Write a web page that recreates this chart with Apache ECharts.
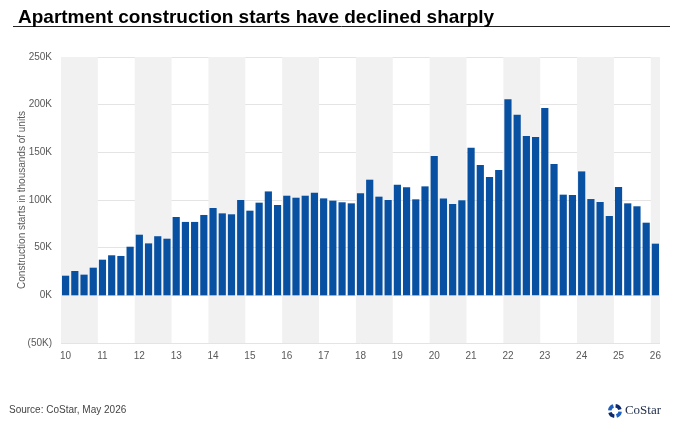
<!DOCTYPE html>
<html>
<head>
<meta charset="utf-8">
<script src="https://cdn.jsdelivr.net/npm/echarts@6/dist/echarts.min.js"></script>
<style>
	html, body { margin: 0; padding: 0; background: #fff; }
	#chart { width: 680px; height: 425px; }
</style>
</head>
<body>
<div id="chart"></div>
<script>
// quarters 2010 Q1 .. 2026 Q1
var years = ['10','11','12','13','14','15','16','17','18','19','20','21','22','23','24','25','26'];

// construction starts, thousands of units
var starts = [
	20.6, 25.5, 21.7, 29.0,
	37.4, 42.0, 41.3, 51.0,
	63.6, 54.5, 62.0, 59.4,
	82.2, 77.0, 77.0, 84.3,
	91.6, 86.0, 85.0, 100.0,
	88.8, 97.2, 109.0, 94.8,
	104.5, 102.4, 104.5, 107.7,
	101.7, 99.3, 97.6, 96.5,
	107.0, 121.3, 103.5, 100.0,
	116.0, 113.3, 100.7, 114.3,
	146.2, 101.7, 95.8, 99.7,
	154.9, 136.7, 124.1, 131.5,
	205.6, 189.5, 167.1, 166.1,
	196.5, 137.8, 105.6, 105.2,
	130.0, 101.0, 97.9, 83.2,
	113.6, 96.5, 93.4, 76.2,
	54.2
];

var quarters = [];
for (var i = 0; i < starts.length; i++) {
	quarters.push(years[Math.floor(i / 4)] + 'Q' + (i % 4 + 1));
}

var chart = echarts.init(document.getElementById('chart'), null, { renderer: 'canvas' });

var colors = {
	bar: '#0850a1',
	band: '#f1f1f1',
	grid: '#e4e4e4',
	labels: '#595959'
};

chart.setOption({
	animation: false,
	grid: {
		left: 61,
		right: 20,
		top: 57,
		bottom: 82
	},
	title: {
		text: 'Apartment construction starts have declined sharply',
		left: 13,
		top: 3,
		textStyle: {
			fontFamily: 'Liberation Sans',
			fontWeight: 'bold',
			fontSize: 19,
			color: '#000'
		}
	},
	xAxis: {
		type: 'category',
		data: quarters,
		boundaryGap: true,
		axisLine: { show: false },
		axisTick: { show: false },
		axisLabel: {
			interval: 3,
			margin: 8,
			color: colors.labels,
			fontFamily: 'Liberation Sans',
			fontSize: 10,
			formatter: function (v) { return v.slice(0, 2); }
		},
		splitArea: {
			show: true,
			interval: 3,
			areaStyle: { color: [colors.band, 'rgba(255,255,255,0)'] }
		}
	},
	yAxis: {
		type: 'value',
		min: -50,
		max: 250,
		interval: 50,
		name: 'Construction starts in thousands of units',
		nameLocation: 'middle',
		nameGap: 34,
		nameMoveOverlap: false,
		nameTextStyle: {
			color: colors.labels,
			fontFamily: 'Liberation Sans',
			fontSize: 10
		},
		axisLine: { show: false },
		axisTick: { show: false },
		axisLabel: {
			margin: 9,
			color: colors.labels,
			fontFamily: 'Liberation Sans',
			fontSize: 10,
			formatter: function (v) { return v < 0 ? '(' + (-v) + 'K)' : v + 'K'; }
		},
		splitLine: { lineStyle: { color: colors.grid, width: 1 } }
	},
	series: [{
		type: 'bar',
		data: starts,
		barCategoryGap: '22%',
		itemStyle: { color: colors.bar },
		silent: true
	}],
	graphic: [
		{
			type: 'line',
			shape: { x1: 13, y1: 26.5, x2: 670, y2: 26.5 },
			style: { stroke: '#222', lineWidth: 1 }
		},
		{
			type: 'text',
			left: 9,
			top: 405,
			style: {
				text: 'Source: CoStar, May 2026',
				fill: '#444',
				font: '10px "Liberation Sans"'
			}
		},
		{
			type: 'group',
			left: 608,
			top: 404,
			children: [
				{ type: 'sector', shape: { cx: 7, cy: 8, r: 7, r0: 3.5, startAngle: -1.45, endAngle: -0.3 }, style: { fill: '#0d2a6e' } },
				{ type: 'sector', shape: { cx: 7, cy: 8, r: 7, r0: 3.5, startAngle: 0.12, endAngle: 1.27 }, style: { fill: '#1f5fbf' } },
				{ type: 'sector', shape: { cx: 7, cy: 8, r: 7, r0: 3.5, startAngle: 1.69, endAngle: 2.84 }, style: { fill: '#0d2a6e' } },
				{ type: 'sector', shape: { cx: 7, cy: 8, r: 7, r0: 3.5, startAngle: 3.26, endAngle: 4.41 }, style: { fill: '#1f5fbf' } },
				{
					type: 'text',
					x: 17,
					y: 1,
					style: {
						text: 'CoStar',
						fill: '#1c2b4a',
						font: '13px "Liberation Serif"'
					}
				}
			]
		}
	]
});
</script>
</body>
</html>
